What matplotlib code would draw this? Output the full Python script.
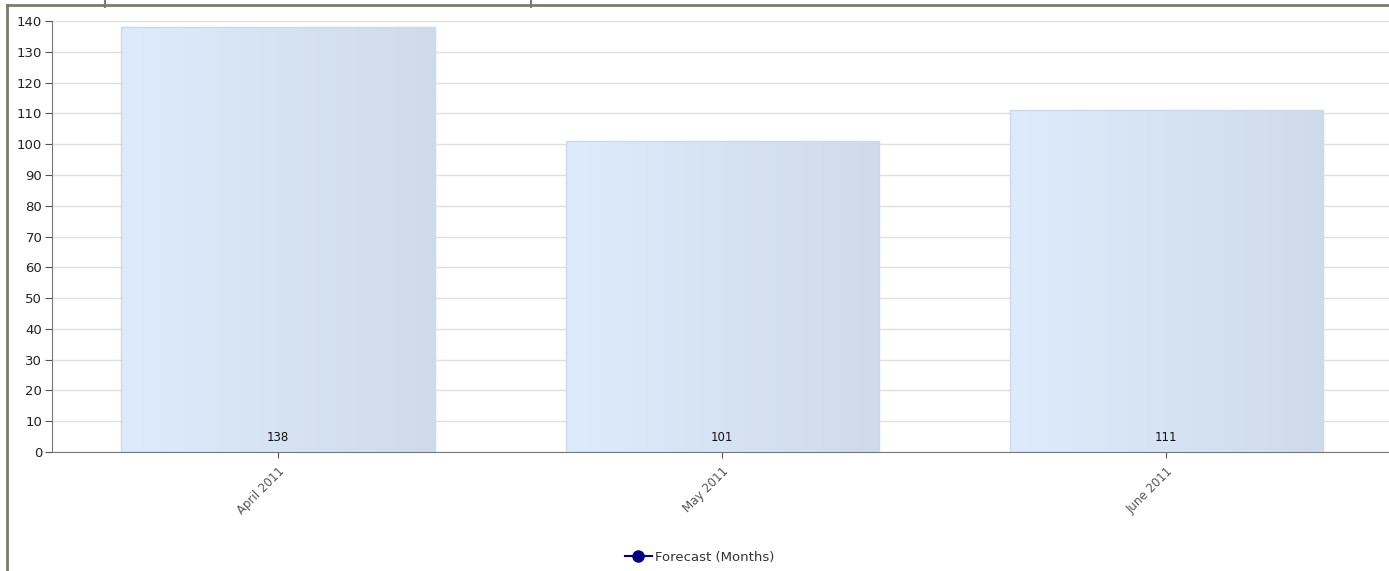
import numpy as np
import matplotlib.pyplot as plt
from matplotlib.lines import Line2D
from matplotlib.colors import LinearSegmentedColormap

months = ['April 2011', 'May 2011', 'June 2011']
forecast = [138, 101, 111]
yticks = list(range(0, 141, 10))

fig = plt.figure(figsize=(13.89, 5.71), dpi=100)
ax = fig.add_axes([52 / 1389, 1 - 452 / 571, 1 - 52 / 1389, (452 - 21) / 571])

# bars with a soft left-to-right gradient
grad = LinearSegmentedColormap.from_list('g', ['#deebfc', '#cfdbea'])
x = np.arange(len(months))
w = 0.705
bars = ax.bar(x, forecast, width=w, color='none', edgecolor='#c9d9ef', linewidth=1, zorder=3)
g = np.linspace(0, 1, 256).reshape(1, -1)
for b in bars:
    x0, y0 = b.get_x(), b.get_y()
    im = ax.imshow(g, cmap=grad, aspect='auto', extent=[x0, x0 + b.get_width(), y0, y0 + b.get_height()], zorder=2)
    im.set_clip_path(b)

for xi, v in zip(x, forecast):
    ax.text(xi, 2.5, str(v), ha='center', va='bottom', fontsize=8.5, color='#111111', zorder=4)

ax.set_xlim(-0.509, 2.502)
ax.set_ylim(0, 140)
ax.set_yticks(yticks)
ax.set_xticks(x)
ax.set_xticklabels(months, rotation=45, ha='right', rotation_mode='anchor', fontsize=8.5, color='#222222')
ax.tick_params(axis='y', labelsize=9.5, colors='#555555', labelcolor='#222222', length=5, pad=2)
ax.tick_params(axis='x', colors='#555555', length=4, pad=5)
ax.yaxis.grid(True, color='#e0e0e0', linewidth=1, zorder=0)
ax.set_axisbelow(True)
for s in ['top', 'right']:
    ax.spines[s].set_visible(False)
for s in ['left', 'bottom']:
    ax.spines[s].set_color('#777777')

# legend
h = Line2D([], [], color='#00007f', marker='o', markersize=8, linewidth=1.5)
fig.legend([h], ['Forecast (Months)'], loc='center', bbox_to_anchor=(700 / 1389, 1 - 557 / 571),
           frameon=False, fontsize=9.5, handlelength=2.0, handletextpad=0.3, labelcolor='#333333')

# page frame lines
fc = '#7b7b6e'
fig.add_artist(Line2D([7 / 1389, 1], [1 - 5 / 571] * 2, color=fc, linewidth=2))
fig.add_artist(Line2D([7 / 1389] * 2, [0, 1 - 5 / 571], color=fc, linewidth=2))
fig.add_artist(Line2D([105 / 1389] * 2, [1 - 7 / 571, 1], color=fc, linewidth=1.5))
fig.add_artist(Line2D([531 / 1389] * 2, [1 - 7 / 571, 1], color=fc, linewidth=1.5))

fig.savefig('out.png', dpi=100)
